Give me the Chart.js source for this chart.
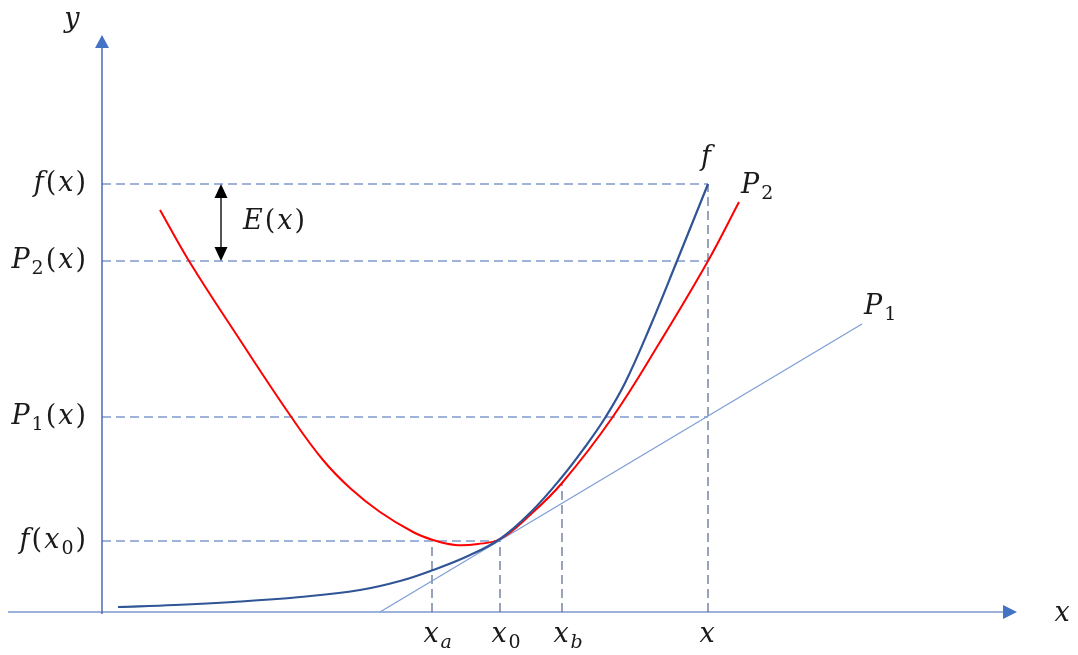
<!DOCTYPE html>
<html>
<head>
<meta charset="utf-8">
<script src="https://cdn.jsdelivr.net/npm/chart.js@4.4.1/dist/chart.umd.min.js"></script>
<style>
  html, body { margin: 0; padding: 0; background: #fff; }
  #wrap { width: 1078px; height: 655px; }
</style>
</head>
<body>
<div id="wrap"><canvas id="taylorChart"></canvas></div>
<script>
// axes cross at (0, 0); one unit is about one pixel of the original figure

// f (dark blue curve)
const fX = [16, 73, 131, 198, 258, 298, 331, 366, 398, 429, 460, 483, 503, 523, 548, 575, 606];
const fY = [5, 7, 10, 15, 22, 31, 42, 56, 73, 100, 135, 165, 194, 229, 285, 351, 428];

// P2 (red parabola)
const p2X = [58, 87, 138, 190, 221, 248, 278, 311, 331, 353, 376, 398, 428, 460, 510, 558, 606, 637];
const p2Y = [402, 351, 272, 194, 152, 124, 100, 80, 72, 67, 68, 73, 97, 129, 194, 270, 351, 410];

// P1 (tangent line)
const p1X = [278, 760];
const p1Y = [0, 288];

// horizontal guides and their labels on the y axis
const hGuideY = [428, 351, 195, 71];
const hGuideEnd = [606, 606, 606, 398];
const yTickLabels = ['f(x)', 'P_2(x)', 'P_1(x)', 'f(x_0)'];

// vertical guides and their labels on the x axis
const vGuideX = [330, 398, 460, 606];
const vGuideTop = [70, 71, 129, 428];
const xTickLabels = ['x_a', 'x_0', 'x_b', 'x'];

// error arrow E(x) between f(x) and P2(x)
const errX = 119;

const zip = (xs, ys) => xs.map((x, i) => ({ x: x, y: ys[i] }));

const datasets = [
  { data: zip(fX, fY), borderColor: '#2f5597', borderWidth: 2.2, tension: 0.4 },
  { data: zip(p2X, p2Y), borderColor: '#ff0000', borderWidth: 2, tension: 0.4 },
  { data: zip(p1X, p1Y), borderColor: '#7f9fd6', borderWidth: 1.3 },
  { data: [{ x: errX, y: hGuideY[0] - 12 }, { x: errX, y: hGuideY[1] + 12 }], borderColor: '#555555', borderWidth: 2 },
];

hGuideY.forEach((v, i) => {
  datasets.push({ data: [{ x: 0, y: v }, { x: hGuideEnd[i], y: v }], borderColor: '#4068b4', borderWidth: 1.2, borderDash: [9, 5] });
});
vGuideX.forEach((v, i) => {
  datasets.push({ data: [{ x: v, y: 0 }, { x: v, y: vGuideTop[i] }], borderColor: '#55688e', borderWidth: 1.2, borderDash: [9, 5] });
});

// axes
datasets.push({ data: [{ x: 0, y: -2 }, { x: 0, y: 566 }], borderColor: '#4a6cb0', borderWidth: 1.5 });
datasets.push({ data: [{ x: -94, y: 0 }, { x: 902, y: 0 }], borderColor: '#9db2da', borderWidth: 2.2 });

datasets.forEach(d => { d.pointRadius = 0; d.fill = false; });

function parseLabel(s) {
  const runs = [];
  for (let i = 0; i < s.length; i++) {
    if (s[i] === '_') runs.push({ t: s[++i], sub: true });
    else runs.push({ t: s[i], sub: false });
  }
  return runs;
}

function runFont(r) {
  const size = r.sub ? 19 : 27;
  const italic = /[a-zA-Z]/.test(r.t);
  return (italic ? 'italic ' : '') + size + 'px "DejaVu Serif"';
}

function drawLabel(ctx, s, px, py, align) {
  const runs = parseLabel(s);
  let w = 0;
  runs.forEach(r => { ctx.font = runFont(r); r.w = ctx.measureText(r.t).width + 2; w += r.w; });
  let left = px;
  if (align === 'right') left = px - w;
  if (align === 'center') left = px - runs[0].w / 2;
  ctx.textAlign = 'left';
  ctx.textBaseline = 'middle';
  ctx.fillStyle = '#1a1a1a';
  runs.forEach(r => {
    ctx.font = runFont(r);
    ctx.fillText(r.t, left, r.sub ? py + 8 : py);
    left += r.w;
  });
}

function drawArrow(ctx, tip, base, w, color) {
  const dx = tip.x - base.x, dy = tip.y - base.y;
  const len = Math.hypot(dx, dy);
  const nx = -dy / len * w / 2, ny = dx / len * w / 2;
  ctx.beginPath();
  ctx.moveTo(tip.x, tip.y);
  ctx.lineTo(base.x + nx, base.y + ny);
  ctx.lineTo(base.x - nx, base.y - ny);
  ctx.closePath();
  ctx.fillStyle = color;
  ctx.fill();
}

const overlay = {
  id: 'overlay',
  afterDatasetsDraw(chart) {
    const { ctx, scales: { x, y } } = chart;
    const P = (a, b) => ({ x: x.getPixelForValue(a), y: y.getPixelForValue(b) });
    ctx.save();

    // axis arrow heads
    drawArrow(ctx, P(0, 577), P(0, 564), 14, '#4472c4');
    drawArrow(ctx, P(915, 0), P(901, 0), 14, '#4472c4');

    // E(x) double arrow heads
    drawArrow(ctx, P(errX, hGuideY[0]), P(errX, hGuideY[0] - 14), 13, '#000000');
    drawArrow(ctx, P(errX, hGuideY[1]), P(errX, hGuideY[1] + 14), 13, '#000000');

    hGuideY.forEach((v, i) => {
      const p = P(-14, v);
      drawLabel(ctx, yTickLabels[i], p.x, p.y, 'right');
    });
    vGuideX.forEach((v, i) => {
      const p = P(v, -23);
      drawLabel(ctx, xTickLabels[i], p.x, p.y, 'center');
    });

    let p = P(-29, 592); drawLabel(ctx, 'y', p.x, p.y, 'center');
    p = P(961, -2); drawLabel(ctx, 'x', p.x, p.y, 'center');
    p = P(605, 454); drawLabel(ctx, 'f', p.x, p.y, 'center');
    p = P(639, 426); drawLabel(ctx, 'P_2', p.x, p.y, 'left');
    p = P(762, 305); drawLabel(ctx, 'P_1', p.x, p.y, 'left');
    p = P(141, 390); drawLabel(ctx, 'E(x)', p.x, p.y, 'left');

    ctx.restore();
  }
};

const config = {
  type: 'line',
  data: { datasets: datasets },
  options: {
    responsive: true,
    maintainAspectRatio: false,
    animation: false,
    layout: { padding: 0 },
    plugins: { legend: { display: false }, tooltip: { enabled: false } },
    scales: {
      x: { type: 'linear', min: -102, max: 976, display: false },
      y: { type: 'linear', min: -43, max: 612, display: false },
    },
  },
  plugins: [overlay],
};

const ctx = document.getElementById('taylorChart');
new Chart(ctx, config);
</script>
</body>
</html>
